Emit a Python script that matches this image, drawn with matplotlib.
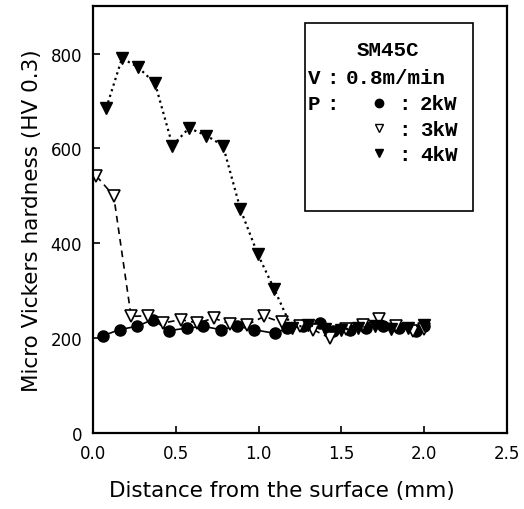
import matplotlib
matplotlib.use("Agg")
from matplotlib import pyplot as plt
from matplotlib.patches import Rectangle

# 2 kW
x_2kw = [0.06, 0.16, 0.265, 0.36, 0.46, 0.565, 0.665, 0.77, 0.87, 0.97, 1.10, 1.17,
         1.27, 1.37, 1.45, 1.55, 1.65, 1.75, 1.85, 1.95, 2.0]
y_2kw = [205, 218, 225, 239, 216, 221, 225, 218, 225, 218, 210, 221,
         225, 232, 215, 218, 222, 225, 222, 215, 225]
# 3 kW
x_3kw = [0.02, 0.125, 0.23, 0.33, 0.425, 0.53, 0.63, 0.73, 0.83, 0.93, 1.035, 1.14,
         1.25, 1.33, 1.43, 1.53, 1.63, 1.73, 1.83, 1.93, 2.0]
y_3kw = [542, 500, 246, 247, 232, 239, 232, 242, 230, 228, 246, 233,
         225, 218, 200, 220, 228, 240, 225, 215, 220]
# 4 kW
x_4kw = [0.08, 0.175, 0.27, 0.375, 0.48, 0.58, 0.685, 0.785, 0.89, 0.995, 1.095,
         1.2, 1.3, 1.4, 1.5, 1.6, 1.7, 1.8, 1.9, 2.0]
y_4kw = [685, 790, 772, 737, 606, 643, 627, 606, 472, 377, 303,
         222, 228, 220, 218, 222, 225, 220, 222, 228]

fig = plt.figure(figsize=(5.24, 5.10), dpi=100)
ax = fig.add_axes([0.1775, 0.149, 0.79, 0.837])

ax.plot(x_2kw, y_2kw, "-", color="black", lw=1.2, marker="o", ms=8)
ax.plot(x_3kw, y_3kw, "--", color="black", lw=1.2, marker="v", ms=8,
        mfc="white", mec="black", mew=1.2, dashes=(4, 3))
ax.plot(x_4kw, y_4kw, ":", color="black", lw=1.6, marker="v", ms=8)

ax.set_xlim(0, 2.5)
ax.set_ylim(0, 900)
ax.set_xticks([0.0, 0.5, 1.0, 1.5, 2.0, 2.5])
ax.set_yticks([0, 200, 400, 600, 800])
ax.tick_params(direction="in", length=5, width=1.2, labelsize=12, pad=8)
for s in ax.spines.values():
    s.set_linewidth(1.6)

# legend box helpers (pixel -> axes fraction)
def fx(px):
    return (px - 93) / 414

def fy(py):
    return (434 - py) / 427

ax.set_xlabel("Distance from the surface (mm)", fontsize=15.5)
ax.xaxis.set_label_coords(fx(282), fy(481))
ax.set_ylabel("Micro Vickers hardness (HV 0.3)", fontsize=15.5, labelpad=6)

ax.add_patch(Rectangle((fx(305), fy(212)), fx(473) - fx(305), fy(24) - fy(212),
                       transform=ax.transAxes, fill=False, lw=1.2, ec="black"))
mono = dict(family="Liberation Mono", weight="bold", fontsize=15,
            transform=ax.transAxes, va="center")

rows = [50, 78, 104, 130, 155]
ax.text(fx(388), fy(rows[0]), "SM45C", ha="center", **mono)
ax.text(fx(314), fy(rows[1]), "V", ha="center", **mono)
ax.text(fx(333), fy(rows[1]), ":", ha="center", **mono)
ax.text(fx(346), fy(rows[1]), "0.8m/min", ha="left", **mono)
ax.text(fx(314), fy(rows[2]), "P", ha="center", **mono)
ax.text(fx(333), fy(rows[2]), ":", ha="center", **mono)
for py, lab in zip(rows[2:], ["2kW", "3kW", "4kW"]):
    ax.text(fx(405), fy(py), ":", ha="center", **mono)
    ax.text(fx(420), fy(py), lab, ha="left", **mono)
ax.plot([fx(379)], [fy(rows[2])], "o", color="black", ms=6, transform=ax.transAxes)
ax.plot([fx(379)], [fy(rows[3] - 1)], "v", mfc="white", mec="black", ms=6,
        transform=ax.transAxes)
ax.plot([fx(379)], [fy(rows[4] - 1)], "v", color="black", ms=6, transform=ax.transAxes)

fig.savefig("out.png", dpi=100)
